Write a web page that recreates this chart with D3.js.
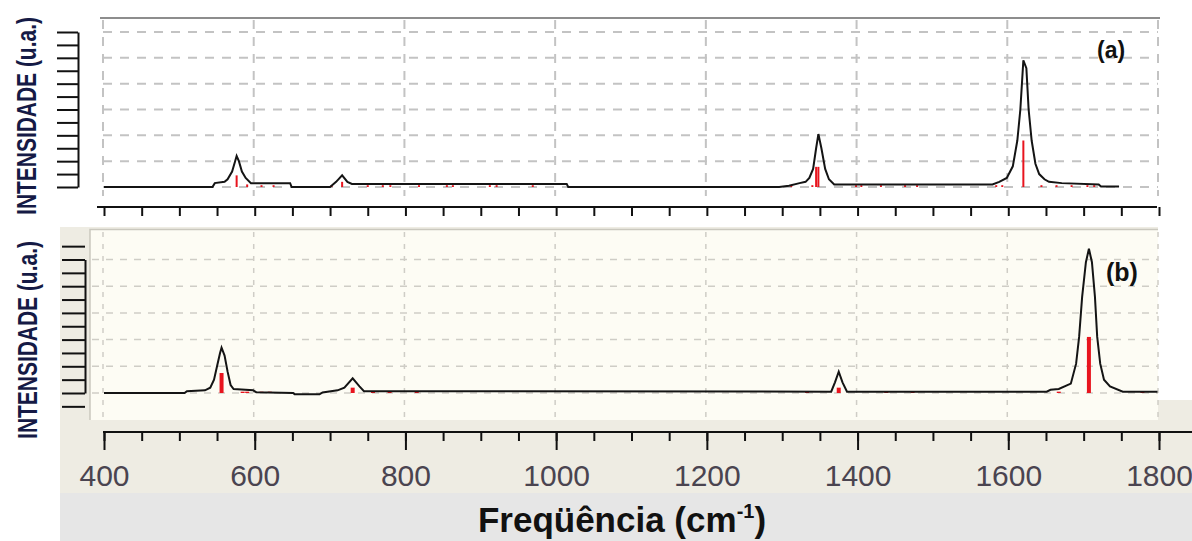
<!DOCTYPE html>
<html>
<head>
<meta charset="utf-8">
<script src="https://cdn.jsdelivr.net/npm/d3@7"></script>
<style>
  html, body { margin: 0; padding: 0; background: #ffffff; }
  svg { display: block; font-family: "Liberation Sans", Arial, sans-serif; }
</style>
</head>
<body>
<svg id="chart" width="1192" height="541"></svg>
<script>
// ---- Spectrum (a): simulated band envelope ----
const freqA = [400, 544, 547, 560, 564, 570, 574, 576, 579, 583, 588, 595, 647, 649,
               700, 708, 716, 723, 729, 1014, 1016, 1296, 1309, 1323, 1331, 1336, 1341,
               1345, 1348, 1352, 1357, 1362, 1369, 1579, 1588, 1598, 1606, 1612, 1616,
               1620, 1624, 1627, 1631, 1636, 1641, 1648, 1654, 1671, 1720, 1723, 1747];
const intA  = [0, 0, 0.15, 0.2, 0.3, 0.6, 1.0, 1.2, 1.0, 0.6, 0.35, 0.15, 0.15, 0,
               0, 0.2, 0.45, 0.2, 0.12, 0.12, 0, 0, 0.05, 0.15, 0.2, 0.35, 0.7,
               1.5, 2.05, 1.5, 0.7, 0.3, 0.1, 0.1, 0.2, 0.35, 0.8, 1.8, 3.0,
               4.9, 4.6, 3.0, 1.8, 0.9, 0.5, 0.3, 0.2, 0.15, 0.1, 0.02, 0.02];

// Spectrum (a): individual line positions and intensities
const lineFreqA = [576, 590, 609, 625, 702, 716, 750, 770, 780, 818, 855, 863, 912, 921, 969,
                   1312, 1340, 1345, 1348, 1398, 1405, 1431, 1463, 1479, 1584, 1592, 1620,
                   1644, 1664, 1684, 1705, 1714];
const lineIntA  = [0.45, 0.1, 0.07, 0.07, 0.07, 0.2, 0.07, 0.07, 0.07, 0.07, 0.07, 0.07, 0.07, 0.07, 0.07,
                   0.07, 0.07, 0.78, 0.78, 0.07, 0.07, 0.07, 0.07, 0.07, 0.07, 0.07, 1.8,
                   0.07, 0.07, 0.07, 0.07, 0.07];

// ---- Spectrum (b): simulated band envelope ----
const freqB = [400, 507, 510, 534, 541, 546, 550, 554, 556, 560, 564, 568, 572, 598, 602,
               651, 653, 686, 690, 710, 719, 730, 739, 745, 1365, 1370, 1375, 1380, 1386,
               1651, 1656, 1667, 1683, 1690, 1694, 1698, 1703, 1707, 1711, 1715, 1718,
               1722, 1727, 1735, 1752, 1798];
const intB  = [0, 0, 0.07, 0.1, 0.2, 0.5, 1.0, 1.5, 1.7, 1.4, 0.8, 0.3, 0.15, 0.1, 0.03,
               0, -0.05, -0.05, 0.02, 0.1, 0.2, 0.55, 0.25, 0.07, 0.05, 0.4, 0.8, 0.4, 0.05,
               0.05, 0.12, 0.15, 0.35, 1.1, 2.1, 3.6, 4.9, 5.4, 4.9, 3.6, 2.1,
               1.1, 0.5, 0.25, 0.05, 0.05];

// Spectrum (b): individual line positions and intensities
const lineFreqB = [556, 584, 590, 609, 620, 730, 757, 779, 815, 1333, 1375, 1438, 1473, 1667, 1707, 1778];
const lineIntB  = [0.75, 0.05, 0.05, 0.05, 0.05, 0.2, 0.05, 0.05, 0.05, 0.05, 0.2, 0.05, 0.05, 0.05, 2.1, 0.05];

// Axis ticks
const freqTicks = [400, 600, 800, 1000, 1200, 1400, 1600, 1800];
const freqMinorTicks = d3.range(400, 1801, 50);
const gridA = [0, 1, 2, 3, 4, 5, 6];
const tickA = d3.range(0, 6.01, 0.5);
const gridB = [0, 1, 2, 3, 4, 5];
const tickB = d3.range(-0.5, 5.51, 0.5);

const yTitle = "INTENSIDADE (u.a.)";
const xTitle = "Freqüência (cm";

const svg = d3.select("#chart");

// Scales
const x = d3.scaleLinear().domain([400, 1800]).range([104, 1159]);
const yA = d3.scaleLinear().domain([0, 6]).range([187, 32]);
const yB = d3.scaleLinear().domain([0, 5]).range([393, 259.5]);

// ---- Lower panel background ----
svg.append("path")
  .attr("d", "M60,227H1158V400H1192V493H60Z")
  .attr("fill", "#eeece3");
svg.append("rect")
  .attr("x", 60).attr("y", 493).attr("width", 1132).attr("height", 48)
  .attr("fill", "#e6e6e6");
svg.append("rect")
  .attr("x", 90).attr("y", 230).attr("width", 1068).attr("height", 190)
  .attr("fill", "#fdfcf4");
svg.append("path")
  .attr("d", "M90,420V229.5H1158")
  .attr("fill", "none").attr("stroke", "#cac8be").attr("stroke-width", 1.5);

// ---- Upper panel frame ----
svg.append("line")
  .attr("x1", 100).attr("x2", 1160).attr("y1", 18).attr("y2", 18)
  .attr("stroke", "#8d8d8d").attr("stroke-width", 2);

// Upper panel grid
const gA = svg.append("g");
gA.selectAll("line.v").data(freqTicks).join("line")
  .attr("x1", d => x(d) - 1).attr("x2", d => x(d) - 1)
  .attr("y1", 20).attr("y2", 196)
  .attr("stroke", "#c3c3c3").attr("stroke-width", 2).attr("stroke-dasharray", "9,8");
gA.selectAll("line.h").data(gridA).join("line")
  .attr("x1", 103).attr("x2", 1158)
  .attr("y1", d => yA(d)).attr("y2", d => yA(d))
  .attr("stroke", "#c3c3c3").attr("stroke-width", 2).attr("stroke-dasharray", "9,8");

// Lower panel grid
const gB = svg.append("g");
gB.selectAll("line.v").data(freqTicks).join("line")
  .attr("x1", d => x(d) - 1).attr("x2", d => x(d) - 1)
  .attr("y1", 232).attr("y2", 422)
  .attr("stroke", "#cfcdc6").attr("stroke-width", 1.5).attr("stroke-dasharray", "5,7");
gB.selectAll("line.h").data(gridB).join("line")
  .attr("x1", 92).attr("x2", 1158)
  .attr("y1", d => yB(d)).attr("y2", d => yB(d))
  .attr("stroke", "#cfcdc6").attr("stroke-width", 1.5).attr("stroke-dasharray", "7,7");

// ---- Line sticks and envelopes ----
function drawSticks(freqs, ints, y, width) {
  svg.append("g").selectAll("line").data(freqs).join("line")
    .attr("x1", d => x(d)).attr("x2", d => x(d))
    .attr("y1", y(0)).attr("y2", (d, i) => y(ints[i]))
    .attr("stroke", "#e8141e").attr("stroke-width", width);
}
function drawEnvelope(freqs, ints, y) {
  const pts = freqs.map((f, i) => [f, ints[i]]);
  svg.append("path")
    .datum(pts)
    .attr("d", d3.line().x(d => x(d[0])).y(d => y(d[1])))
    .attr("fill", "none").attr("stroke", "#141414")
    .attr("stroke-width", 2).attr("stroke-linejoin", "miter");
}
drawSticks(lineFreqA, lineIntA, yA, 2);
drawEnvelope(freqA, intA, yA);
drawSticks(lineFreqB, lineIntB, yB, 4);
drawEnvelope(freqB, intB, yB);

// ---- Axes ----
function styleAxis(g) {
  g.select(".domain").attr("stroke", "#111").attr("stroke-width", 2);
  g.selectAll(".tick line").attr("stroke", "#111").attr("stroke-width", 2);
}

// Upper intensity axis
svg.append("g")
  .attr("transform", "translate(78,0)")
  .call(d3.axisLeft(yA).tickValues(tickA).tickSize(21).tickSizeOuter(0).tickFormat(""))
  .call(styleAxis);

// Lower intensity axis
svg.append("g")
  .attr("transform", "translate(85,0)")
  .call(d3.axisLeft(yB).tickValues(tickB).tickSize(23).tickSizeOuter(0).tickFormat(""))
  .call(styleAxis);

// Upper frequency axis (no labels)
svg.append("line")
  .attr("x1", 97).attr("x2", 1157).attr("y1", 207).attr("y2", 207)
  .attr("stroke", "#111").attr("stroke-width", 2);
svg.append("g")
  .attr("transform", "translate(0,207)")
  .call(d3.axisBottom(x).tickValues(freqMinorTicks).tickSize(9).tickSizeOuter(0).tickFormat(""))
  .call(styleAxis)
  .call(g => g.select(".domain").remove());

// Lower frequency axis
svg.append("line")
  .attr("x1", 103).attr("x2", 1192).attr("y1", 432).attr("y2", 432)
  .attr("stroke", "#111").attr("stroke-width", 2);
svg.append("g")
  .attr("transform", "translate(0,432)")
  .call(d3.axisBottom(x).tickValues(freqMinorTicks).tickSize(9).tickSizeOuter(0).tickFormat(""))
  .call(styleAxis)
  .call(g => g.select(".domain").remove());
const major = svg.append("g")
  .attr("transform", "translate(0,432)")
  .call(d3.axisBottom(x).tickValues(freqTicks).tickSize(18).tickSizeOuter(0).tickPadding(15).tickFormat(d3.format("d")))
  .call(styleAxis)
  .call(g => g.select(".domain").remove());
major.selectAll(".tick text")
  .attr("font-family", "'Liberation Sans', Arial, sans-serif")
  .attr("font-size", 30)
  .attr("fill", "#4a4450");

// ---- Titles ----
// Condensed vertical title: natural width is measured, then squeezed to 198 px
function yLabel(cx, cy) {
  const t = svg.append("text")
    .attr("text-anchor", "middle")
    .attr("font-weight", "bold")
    .attr("font-size", 27)
    .attr("fill", "#151a45")
    .text(yTitle);
  const w = t.node().getComputedTextLength();
  t.attr("transform", `translate(${cx},${cy}) rotate(-90) scale(${198 / w},1)`);
}
yLabel(36, 116);
yLabel(37, 340);

const xt = svg.append("text")
  .attr("x", 622).attr("y", 532)
  .attr("text-anchor", "middle")
  .attr("font-weight", "bold")
  .attr("font-size", 35)
  .attr("fill", "#111111");
xt.append("tspan").text(xTitle);
xt.append("tspan").attr("font-size", 20).attr("dy", -14).text("-1");
xt.append("tspan").attr("dy", 14).text(")");

svg.append("text")
  .attr("x", 1097).attr("y", 58)
  .attr("font-weight", "bold").attr("font-size", 23).attr("fill", "#111")
  .text("(a)");
svg.append("text")
  .attr("x", 1106).attr("y", 281)
  .attr("font-weight", "bold").attr("font-size", 25).attr("fill", "#111")
  .text("(b)");
</script>
</body>
</html>
